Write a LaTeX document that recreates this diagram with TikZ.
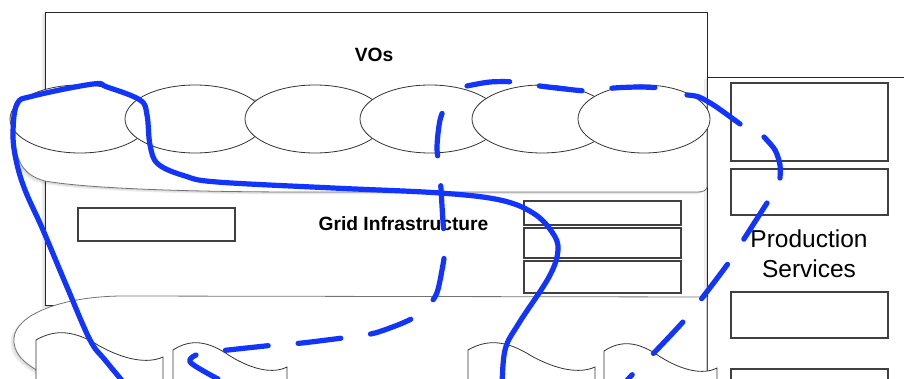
\documentclass[tikz,border=0pt]{standalone}
\usepackage{fontspec}
\setmainfont{Liberation Sans}
\usepackage{xcolor}
\usetikzlibrary{shadows}
\definecolor{inkblue}{RGB}{18,52,255}

\begin{document}
\begin{tikzpicture}[x=1pt, y=-1pt, thick,
    frame/.style={draw=black!85, line width=0.9pt, fill=white},
    slot/.style={draw=black!75, line width=1.2pt, fill=white},
    rim/.style={draw=black!55, line width=0.8pt, fill=white},
    vo/.style={draw=black!80, line width=0.8pt, fill=white},
    haze/.style={general shadow={fill=black, opacity=.07, shadow xshift=-1.5pt, shadow yshift=-1.5pt},
                 general shadow={fill=black, opacity=.07, shadow xshift=-3.5pt, shadow yshift=-2.5pt}},
    ink/.style={draw=inkblue, line width=5.2pt, line cap=round, line join=round},
    inkdash/.style={ink, dash pattern=on 43pt off 30pt},
    heading/.style={font=\fontsize{19.2}{21}\selectfont\bfseries, inner sep=0pt, anchor=base}]
    \useasboundingbox (0,0) rectangle (904,379);
    \clip (0,0) rectangle (904,379);
    \fill[white] (0,0) rectangle (904,379);
    % Grid frame
    \draw[frame, haze] (45,12) rectangle (707,305);
    % Production services panel
    \draw[frame, haze] (707,77) rectangle (930,400);
    \foreach \ya/\yb in {83/161, 169/215, 292/338, 369/400}
        \draw[slot] (731,\ya) rectangle (888,\yb);
    % VO platter
    \draw[rim, haze] (707,100) -- (60,100) .. controls (25,100) and (12,115) .. (14,135)
        .. controls (16,160) and (22,175) .. (45,181) .. controls (90,189) and (200,192) .. (300,192)
        -- (698,192) .. controls (703,192) and (707,190) .. (707,187) -- cycle;
    \foreach \cx/\rx in {80/70, 195/70, 315/70, 430/70, 542/70, 644/66}
        \draw[vo] (\cx,119) ellipse ({\rx} and 34);
    % Bottom platter
    \draw[rim, haze] (707,297) -- (120,296) .. controls (60,297) and (16,315) .. (14,338)
        .. controls (13,352) and (22,362) .. (40,372) -- (40,400) -- (707,400) -- cycle;
    % Documents
    \foreach \x/\w/\t in {36/127/332, 173/114/342, 468/127/342, 604/113/343}
        \draw[rim, draw=black!80] (\x,400) -- (\x,\t+8) .. controls (\x+0.15*\w,\t-3) and (\x+0.3*\w,\t-2) .. (\x+0.5*\w,\t+14)
            .. controls (\x+0.7*\w,\t+28) and (\x+0.88*\w,\t+32) .. (\x+\w,\t+25) -- (\x+\w,400);
    % Grid boxes
    \draw[slot] (78,208) rectangle (235,241);
    \foreach \ya/\yb in {201/225, 228/258, 261/293}
        \draw[slot] (524,\ya) rectangle (681,\yb);
    % Labels
    \node[heading] (vos) at (374,62) {VOs};
    \node[heading] (grid) at (403.5,231) {Grid Infrastructure};
    \node[font=\fontsize{24.5}{30}\selectfont, align=center, inner sep=0pt] (prod) at (809,253.5) {Production\\Services};
    % Solid stroke
    \draw[ink] plot[smooth, tension=0.6] coordinates {(130,390) (105,360) (90,340) (67,287) (43,230) (25,190)
        (16,160) (13,133) (17,104) (33,96) (93,84) (107,87) (140,100) (147,115) (150,145) (158,164)
        (185,176) (217,182) (333,188) (440,193) (500,200) (533,213) (552,232) (558,250) (549,277)
        (519,323) (505,350) (502,390)};
    % Dashed stroke, in runs
    \draw[inkdash] plot[smooth, tension=0.5] coordinates {(218,379) (190,362) (201,353) (228,350) (275,345)
        (302,343) (350,337) (375,333) (405,322) (422,312) (436,295) (442,270) (445,248) (443,222)
        (440,175) (437,148) (440,120) (447,102)};
    \draw[inkdash] plot[smooth, tension=0.5] coordinates {(467,86) (490,82) (515,82) (540,86) (565,89)
        (589,91) (614,88) (640,87) (662,88)};
    \draw[ink] plot[smooth, tension=0.5] coordinates {(687,95) (699,97) (715,106) (740,124)};
    \draw[ink] plot[smooth, tension=0.5] coordinates {(764,137) (775,150) (780,165) (780,178)};
    \draw[inkdash] plot[smooth, tension=0.5] coordinates {(767,203) (742,242) (727,265) (699,302)
        (682,323) (650,357) (630,377) (618,392)};
\end{tikzpicture}
\end{document}
